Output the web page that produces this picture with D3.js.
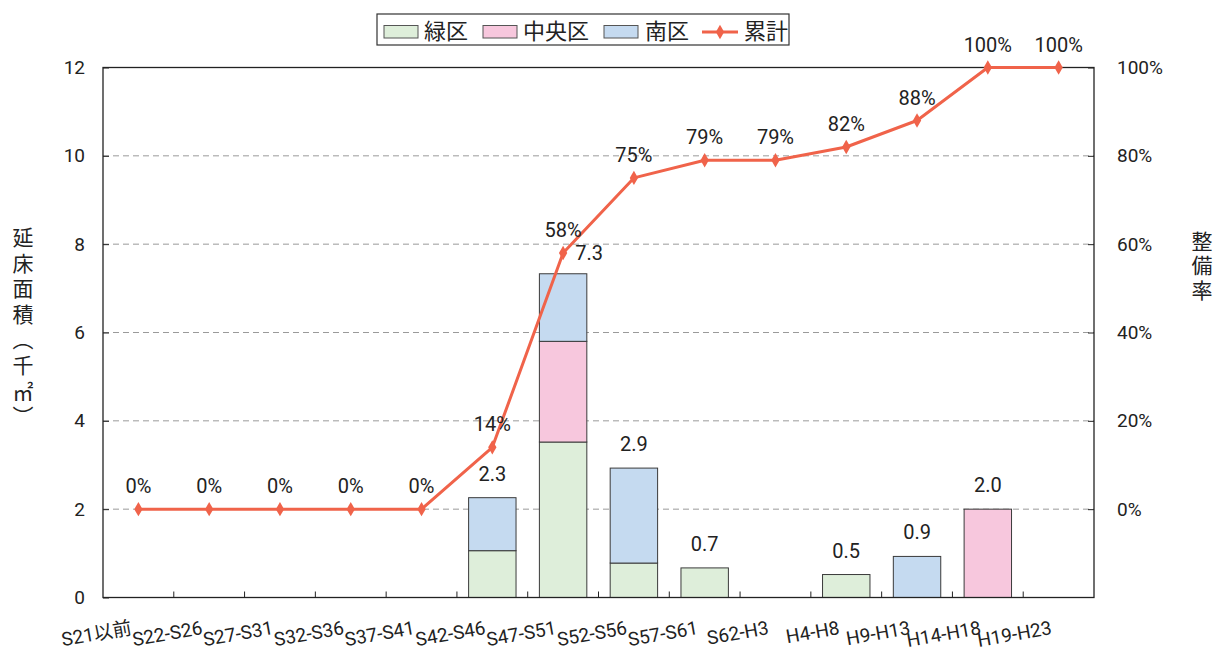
<!DOCTYPE html>
<html>
<head>
<meta charset="utf-8">
<script src="https://cdn.jsdelivr.net/npm/d3@7"></script>
<style>
  html, body { margin: 0; padding: 0; background: #fff; }
  svg { display: block; }
  text { fill: #222; }
  .vtitle { writing-mode: vertical-rl; text-orientation: upright; }
</style>
</head>
<body>
<svg id="chart" width="1215" height="653"></svg>
<script>
// 建築時期（年代区分）
const periods = ["S21以前", "S22-S26", "S27-S31", "S32-S36", "S37-S41", "S42-S46", "S47-S51",
                 "S52-S56", "S57-S61", "S62-H3", "H4-H8", "H9-H13", "H14-H18", "H19-H23"];
// 区別の延床面積（千㎡）
const midori = [0, 0, 0, 0, 0, 1.06, 3.52, 0.78, 0.67, 0, 0.52, 0, 0, 0];
const chuo   = [0, 0, 0, 0, 0, 0,    2.28, 0,    0,    0, 0,    0, 2.0, 0];
const minami = [0, 0, 0, 0, 0, 1.20, 1.53, 2.15, 0,    0, 0,    0.93, 0, 0];
// 整備率の累計（%）
const ruikei = [0, 0, 0, 0, 0, 14, 58, 75, 79, 79, 82, 88, 100, 100];
// 軸目盛
const areaTicks = [0, 2, 4, 6, 8, 10, 12];
const rateTicks = [0, 20, 40, 60, 80, 100];

const seriesNames = ["緑区", "中央区", "南区"];
const fills = ["#deeeda", "#f7c7dd", "#c5daf0"];
const lineColor = "#f0634a";

const svg = d3.select("#chart");
const L = 103, R = 1094, T = 67.5, B = 597.5;

const x = d3.scaleBand().domain(periods).range([L, R]).paddingInner(0.33).paddingOuter(0.165);
const y = d3.scaleLinear().domain([0, 12]).range([B, T]);
// 右軸: 0% が 2、100% が 12 の高さ
const yR = d3.scaleLinear().domain([-20, 100]).range([B, T]);

const numFont = "Roboto, 'Noto Sans CJK JP', sans-serif";
const jpFont = "'Noto Sans CJK JP', sans-serif";

// 補助線（破線）
svg.append("g").selectAll("line")
  .data(areaTicks.filter(v => v > 0 && v < 12))
  .join("line")
  .attr("x1", L).attr("x2", R)
  .attr("y1", d => y(d)).attr("y2", d => y(d))
  .attr("stroke", "#9a9a9a").attr("stroke-width", 1)
  .attr("stroke-dasharray", "6,4");

// 積み上げ棒
const stackRows = periods.map((p, i) => ({ period: p, 緑区: midori[i], 中央区: chuo[i], 南区: minami[i] }));
const stacked = d3.stack().keys(seriesNames)(stackRows);

svg.append("g").selectAll("g")
  .data(stacked)
  .join("g")
  .attr("fill", (d, i) => fills[i])
  .selectAll("rect")
  .data(d => d.filter(s => s[1] - s[0] > 0))
  .join("rect")
  .attr("x", d => x(d.data.period))
  .attr("width", x.bandwidth())
  .attr("y", d => y(d[1]))
  .attr("height", d => y(d[0]) - y(d[1]))
  .attr("stroke", "#3a3a3a").attr("stroke-width", 1);

// 棒の合計ラベル
const totals = periods.map((p, i) => midori[i] + chuo[i] + minami[i]);
const labelShift = { "S47-S51": [26, 3] };
svg.append("g").selectAll("text")
  .data(periods.map((p, i) => ({ p, v: totals[i] })).filter(d => d.v > 0))
  .join("text")
  .attr("x", d => x(d.p) + x.bandwidth() / 2 + (labelShift[d.p] ? labelShift[d.p][0] : 0))
  .attr("y", d => y(d.v) - 17 + (labelShift[d.p] ? labelShift[d.p][1] : 0))
  .attr("text-anchor", "middle")
  .attr("font-family", numFont).attr("font-size", 20)
  .text(d => d.v.toFixed(1));

// 枠
svg.append("rect")
  .attr("x", L).attr("y", T).attr("width", R - L).attr("height", B - T)
  .attr("fill", "none").attr("stroke", "#222").attr("stroke-width", 1.3);

// 左軸
const axL = svg.append("g").attr("transform", `translate(${L},0)`)
  .call(d3.axisLeft(y).tickValues(areaTicks).tickSizeInner(-6).tickSizeOuter(0).tickPadding(18));
axL.select(".domain").remove();
axL.selectAll("line").attr("stroke", "#222");
axL.selectAll("text").attr("font-family", numFont).attr("font-size", 19).attr("fill", "#222");

// 右軸
const axR = svg.append("g").attr("transform", `translate(${R},0)`)
  .call(d3.axisRight(yR).tickValues(rateTicks).tickFormat(d => d + "%").tickSizeInner(-6).tickSizeOuter(0).tickPadding(23));
axR.select(".domain").remove();
axR.selectAll("line").attr("stroke", "#222");
axR.selectAll("text").attr("font-family", numFont).attr("font-size", 19).attr("fill", "#222");

// 下軸の区切り目盛
svg.append("g").selectAll("line")
  .data(periods.slice(1))
  .join("line")
  .attr("x1", d => x(d) - x.step() * x.paddingInner() / 2)
  .attr("x2", d => x(d) - x.step() * x.paddingInner() / 2)
  .attr("y1", B).attr("y2", B - 6)
  .attr("stroke", "#222").attr("stroke-width", 1);

// 下軸ラベル（傾斜）
svg.append("g").selectAll("text")
  .data(periods)
  .join("text")
  .attr("transform", d => `translate(${x(d) + x.bandwidth() / 2 - 6},634) rotate(-10)`)
  .attr("text-anchor", "end")
  .attr("font-family", numFont).attr("font-size", 19)
  .text(d => d);

// 累計の折れ線
const cx = p => x(p) + x.bandwidth() / 2;
const line = d3.line().x((d, i) => cx(periods[i])).y(d => yR(d));
svg.append("path")
  .datum(ruikei)
  .attr("d", line)
  .attr("fill", "none").attr("stroke", lineColor).attr("stroke-width", 3)
  .attr("stroke-linejoin", "round");

const diamond = d3.symbol().type(d3.symbolDiamond).size(60);
svg.append("g").selectAll("path")
  .data(ruikei)
  .join("path")
  .attr("transform", (d, i) => `translate(${cx(periods[i])},${yR(d)})`)
  .attr("d", diamond)
  .attr("fill", lineColor);

svg.append("g").selectAll("text")
  .data(ruikei)
  .join("text")
  .attr("x", (d, i) => cx(periods[i]))
  .attr("y", d => yR(d) - 16)
  .attr("text-anchor", "middle")
  .attr("font-family", numFont).attr("font-size", 20)
  .text(d => d + "%");

// 軸タイトル（縦書き）
svg.append("text")
  .attr("class", "vtitle")
  .attr("x", 23).attr("y", 329)
  .attr("text-anchor", "middle")
  .attr("font-family", jpFont).attr("font-size", 21)
  .attr("letter-spacing", 4.5)
  .text("延床面積（千㎡）");

svg.append("text")
  .attr("class", "vtitle")
  .attr("x", 1202).attr("y", 267)
  .attr("text-anchor", "middle")
  .attr("font-family", jpFont).attr("font-size", 21)
  .attr("letter-spacing", 3.5)
  .text("整備率");

// 凡例
const lg = svg.append("g");
lg.append("rect").attr("x", 377).attr("y", 14).attr("width", 412).attr("height", 31)
  .attr("fill", "#fff").attr("stroke", "#333").attr("stroke-width", 1.2);
const swX = [384, 483, 604];
const txX = [424, 523, 645];
seriesNames.forEach((n, i) => {
  lg.append("rect").attr("x", swX[i]).attr("y", 25.5).attr("width", 34).attr("height", 12.5)
    .attr("fill", fills[i]).attr("stroke", "#555").attr("stroke-width", 1);
  lg.append("text").attr("x", txX[i]).attr("y", 39)
    .attr("font-family", jpFont).attr("font-size", 22).text(n);
});
lg.append("line").attr("x1", 702).attr("x2", 738).attr("y1", 32).attr("y2", 32)
  .attr("stroke", lineColor).attr("stroke-width", 3);
lg.append("path").attr("transform", "translate(720,32)").attr("d", diamond).attr("fill", lineColor);
lg.append("text").attr("x", 744).attr("y", 39)
  .attr("font-family", jpFont).attr("font-size", 22).text("累計");
</script>
</body>
</html>
